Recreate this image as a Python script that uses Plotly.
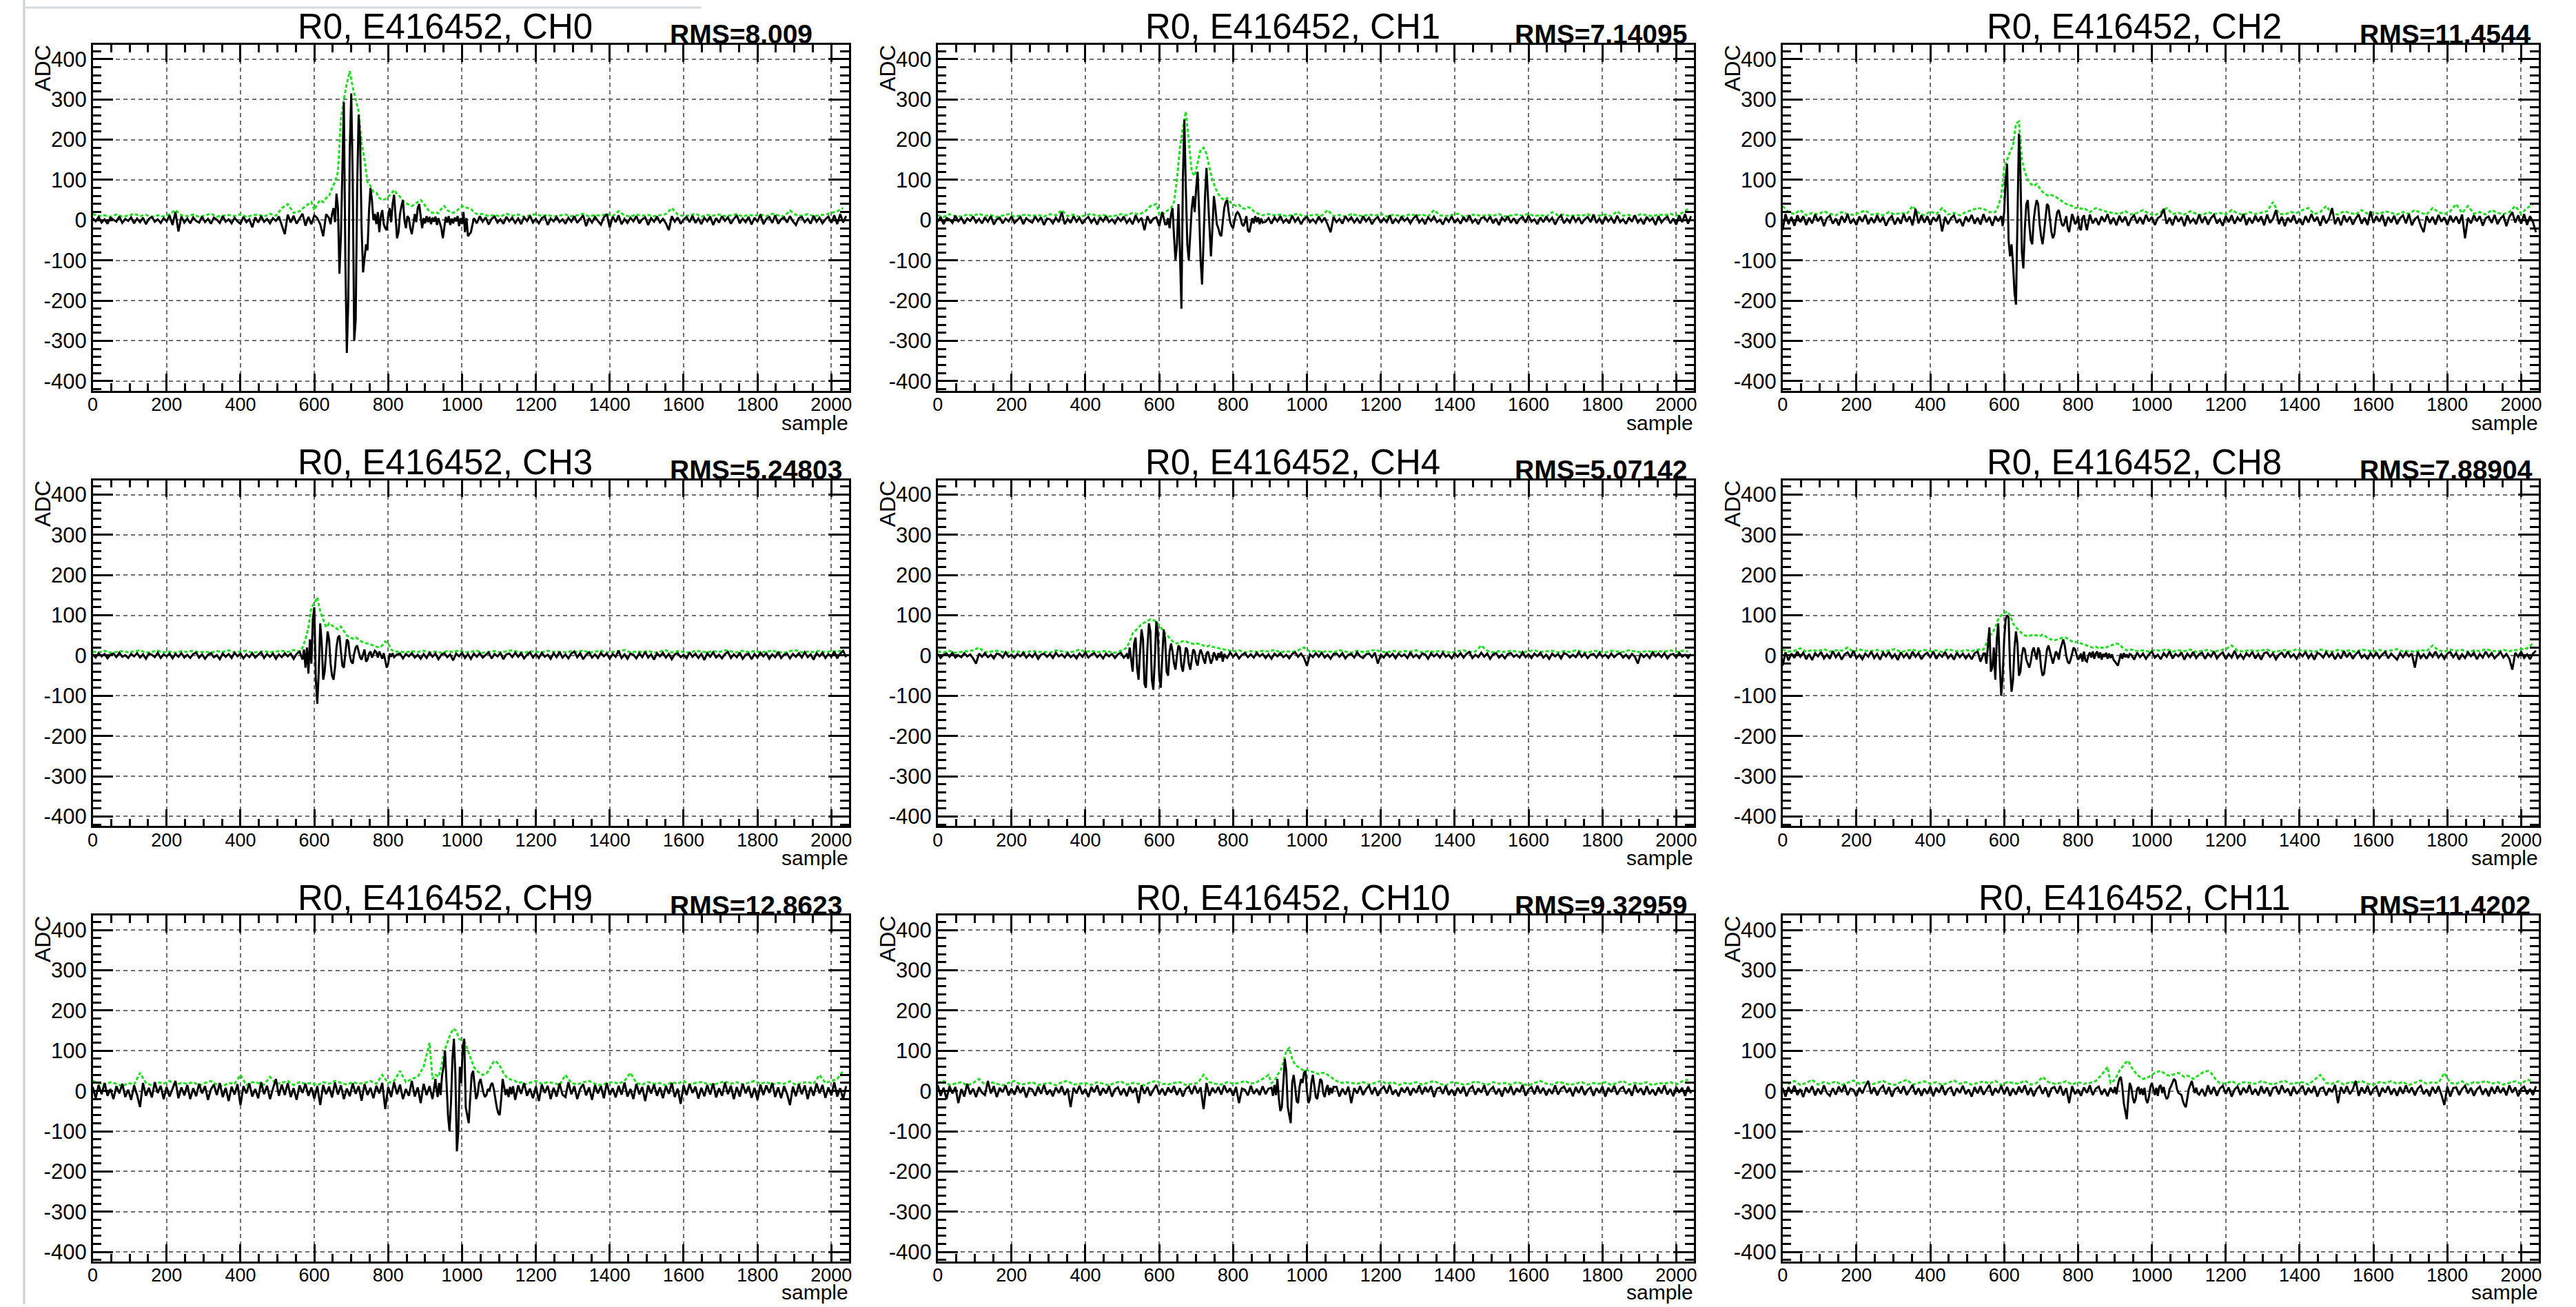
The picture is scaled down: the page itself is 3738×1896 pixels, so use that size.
import plotly.graph_objects as go

# ---------------------------------------------------------------------------
# Event display: run 0, event 416452 -- raw ADC waveform (black) and its
# envelope (green, dotted) for nine readout channels, 2048 samples each.
# Coarse samples are stored every ADC_STEP / ENV_STEP samples; the pulse
# regions are stored at a finer step and replace the coarse points there.
# ---------------------------------------------------------------------------
N_SAMPLES = 2048
ADC_STEP = 8
ENV_STEP = 16
BURST_STEP = 4
ENV_BURST_STEP = 8

run_label = "R0, E416452"
channel_names = ["CH0", "CH1", "CH2", "CH3", "CH4", "CH8", "CH9", "CH10", "CH11"]
rms_values = ["8.009", "7.14095", "11.4544", "5.24803", "5.07142",
              "7.88904", "12.8623", "9.32959", "11.4202"]

x_ticks = [0, 200, 400, 600, 800, 1000, 1200, 1400, 1600, 1800, 2000]
y_ticks = [-400, -300, -200, -100, 0, 100, 200, 300, 400]

# ----------------------------- CH0 -----------------------------------------
ch0_adc = [
    5, -3, 8, -6, 2, -9, 6, 1, -4, 9, -7, 3, -2, 7, -8, 4,
    -5, 6, -10, 3, 8, -4, 2, -7, 5, -3, 12, -12, 20, -28, 9, -6,
    4, -8, 7, -2, -6, 9, -5, 3, -9, 6, 1, -7, 10, -4, 2, -8,
    6, -3, -9, 8, -5, 2, -18, 7, -6, 10, -4, 3, -8, 5, -2, 9,
    -12, -35, 14, -6, 11, -9, 4, 16, -14, 8, -10, 12, 5, -10, -40, 15,
    5, 66, -133, 293, -330, 315, -300, 262, -130, -60, 80, 0, -10, -30, 25, -20,
    -10, 30, 63, -45, 50, -20, -35, 40, -8, 10, -5, 8, -4, 6, -20, 8,
    5, -8, -5, 6, 9, -8, -45, 8, -12, 6, 10, -15, -10, 20, 5, -40,
    -30, 5, -8, 10, -4, 7, -11, 3, 9, -6, 2, -9, 8, -3, 6, -7,
    4, -10, 7, -2, 11, -6, 3, -8, 5, 9, -12, 4, -3, 8, -5, 2,
    -9, 6, -4, 10, -7, 3, 12, -15, 5, -6, 8, -2, -11, 7, 15, -18,
    9, -5, 12, -10, 3, -7, 6, -3, 10, -8, 2, 7, -12, 5, -4, 9,
    -6, 3, -8, -25, 10, -4, 7, -9, 2, 8, -5, 11, -7, 4, -10, 6,
    -3, 9, -12, 5, -6, 10, -2, 7, -9, 3, 12, -8, 4, -5, 8, -11,
    6, -4, 14, -10, 3, 8, -7, 12, -9, 2, 7, -6, 10, -3, -12, 5,
    8, -5, 3, -9, 11, -4, 6, -8, 2, 9, -7, 12, -10, 15, -6, 10,
]
ch0_burst_start = 640
ch0_burst = [
    5, -10, 15, 30, -5, 66, 30, -133, -40, 150,
    293, -100, -330, -200, 180, 315, 100, -300, -250, 80,
    262, 200, -20, -130, -100, -60, -75, 20, 80, 50,
    0, 15, -10, 20, -30, 10, 25, -10, -20, -25,
    10, 30, -5, 40, 63, 10, -45, -30, 15, 35,
    50, 0, -20, 10, 5, -20, -35, -10, 15, -5,
    30, 40, 10, -20, 5, -8, 10, -5, 8, -10,
    6, -4, 9, -12, 5, -8, -20, -45, -15, 8,
    -6, 10, -12, 4, -8, 6, -3, 10, -15, 5,
    -10, 20, -30, 5, -40,
]
ch0_env = [
    15, 10, 12, 8, 14, 9, 11, 16, 10, 13, 8, 12, 9, 15, 25, 12,
    10, 14, 8, 12, 16, 9, 11, 13, 10, 15, 8, 12, 14, 9, 16, 11,
    30, 40, 18, 22, 35, 45, 50, 42, 80, 300, 370, 290, 160, 100, 75, 60,
    55, 50, 60, 70, 55, 50, 60, 45, 35, 25, 20, 25, 20, 18, 30, 35,
    20, 12, 15, 10, 13, 9, 16, 11, 14, 8, 12, 15, 10, 13, 9, 12,
    14, 10, 12, 16, 9, 13, 11, 15, 10, 22, 12, 9, 14, 11, 13, 10,
    12, 15, 30, 14, 10, 12, 16, 9, 13, 11, 14, 10, 12, 15, 9, 13,
    11, 14, 10, 16, 12, 9, 24, 13, 11, 15, 10, 12, 14, 18, 22, 30,
]
ch0_env_burst_start = 600
ch0_env_burst = [
    25, 40, 50, 45, 55, 60, 80, 95, 120, 250, 300, 340, 370, 330, 300, 270,
    190, 150, 95, 85, 70, 68, 55, 50, 52, 58, 65, 75, 65, 58, 48, 42,
    38, 35, 40, 45, 50, 42, 30, 22, 18, 20, 17, 28, 35, 25, 20, 18,
    22, 28, 35, 32, 30, 28, 20, 15,
]

# ----------------------------- CH1 -----------------------------------------
ch1_adc = [
    -4, 8, -10, 5, 2, -7, 11, -3, 6, -9, 4, -2, 9, -6, 3, -8,
    7, -4, 10, -11, 2, 6, -8, 4, -3, 9, -7, 1, 8, -10, 5, -2,
    -6, 9, -3, 7, -12, 4, 2, -8, 6, -5, 20, -10, 3, -7, 10, -4,
    6, -9, 2, 8, -6, 4, -11, 7, -3, 10, -5, 2, -8, 6, -2, 9,
    -7, 3, -10, 12, -4, 6, -25, 10, -8, 4, 7, -15, 20, -10, 15, -30,
    -40, -100, -220, 250, -100, 60, 80, -100, 130, -90, 30, -20, 0, 50, -20, 15,
    15, -10, -5, -30, 5, 10, -5, 10, -8, 4, 6, -9, 3, -5, 8, -4,
    5, -9, 7, -3, 10, -6, 2, -8, 11, -4, 6, -10, 3, 8, -5, 2,
    -7, 9, -4, 6, -11, -30, 8, -5, 3, -9, 10, -2, 7, -6, 4, -8,
    10, -3, 6, -10, 2, 8, -7, 4, -5, 12, -9, 3, -6, 9, -2, 5,
    -8, 4, 11, -6, 3, -10, 7, -2, 9, -5, 1, -11, 6, -4, 10, -7,
    3, -9, 8, -4, 12, -6, 2, -10, 5, 7, -3, 9, -8, 4, -12, 6,
    -2, 10, -7, 5, -9, 3, 8, -6, 11, -4, 2, -10, 7, -5, 9, -3,
    6, -11, 4, 12, -8, 3, -6, 10, -4, 7, -9, 2, 8, -5, 14, -7,
    4, -10, 9, -3, 6, -8, 11, -5, 2, -9, 7, -4, 12, -6, 3, -10,
    8, -2, 5, -12, 10, -6, 3, 9, -8, 4, -11, 12, -5, 15, -9, 10,
]
ch1_burst_start = 620
ch1_burst = [
    -10, 5, -20, 15, 30, -40, -100, -60, 40, -80,
    -220, 100, 250, 80, -60, -100, -40, 30, 60, 20,
    80, 120, 20, -100, -160, -40, 60, 130, 60, -30,
    -90, -20, 60, 30, -10, -20, -35, -40, 0, 30,
    45, 50, 20, -5, -15, -20, 0, 15, 20, 15,
    5, -10, -15, -5, 10, -25, -30, -10, 5, -8,
    10, -5, 7, -10, 4, -6,
]
ch1_env = [
    12, 8, 15, 10, 9, 14, 11, 16, 10, 13, 8, 12, 15, 9, 11, 14,
    10, 13, 9, 15, 12, 25, 10, 14, 8, 12, 16, 10, 13, 9, 11, 15,
    12, 18, 14, 20, 35, 40, 60, 100, 270, 200, 150, 180, 160, 130, 100, 80,
    60, 50, 45, 35, 30, 30, 25, 20, 15, 12, 14, 10, 13, 16, 9, 12,
    14, 11, 25, 10, 13, 9, 15, 12, 10, 14, 11, 16, 9, 13, 12, 10,
    15, 11, 14, 9, 25, 12, 10, 13, 16, 9, 12, 14, 10, 13, 11, 15,
    9, 12, 14, 11, 16, 10, 13, 9, 20, 12, 14, 10, 13, 11, 15, 9,
    12, 14, 10, 22, 11, 13, 9, 15, 12, 10, 14, 12, 16, 11, 18, 28,
]
ch1_env_burst_start = 600
ch1_env_burst = [
    15, 12, 20, 25, 30, 45, 100, 180, 230, 270, 200, 120, 110, 140, 175, 180,
    165, 130, 100, 80, 65, 55, 50, 55, 45, 40, 35, 38, 30, 28, 32, 30,
    22, 18, 14, 12,
]

# ----------------------------- CH2 -----------------------------------------
ch2_adc = [
    -25, 15, -10, 8, -14, 12, -5, 10, -12, 6, -8, 14, -3, 9, -15, 5,
    11, -9, 4, -13, 10, -6, 15, -8, 2, -12, 9, -4, 13, -10, 6, -7,
    12, -5, 8, -14, 3, 10, -11, 6, -9, 15, -4, 9, -13, 28, -8, 12,
    -6, 10, -12, 7, -3, 14, -28, 8, -10, 5, 12, -7, 3, -15, 9, -4,
    13, -9, 6, -11, 15, -5, 8, -14, 10, -3, 20, 100, -80, -40, -210, 150,
    215, -120, 50, -60, 50, -60, 40, -45, 25, -15, -30, 10, 40, -30, 20, -10,
    10, -30, 12, -20, 8, -6, 10, -25, 14, -8, 5, -12, 9, -4, 15, -10,
    6, -13, 11, -5, 9, -14, 4, 12, -8, 7, -10, 13, -3, 8, -12, 5,
    10, 28, -9, 6, -13, 11, -4, 8, -15, 12, -6, 3, -10, 14, -7, 9,
    -11, 5, 13, -8, 2, -14, 10, -5, 12, -9, 7, -3, 15, -12, 6, -8,
    11, -4, 9, -13, 14, -7, 3, 25, -10, 8, -15, 6, -5, 12, -9, 4,
    -12, 10, -6, 15, -3, 8, -14, 11, -8, 5, 30, -10, 7, -13, 12, -5,
    9, -11, 4, 14, -9, 6, -12, 22, -7, 10, -4, 13, -15, 8, -6, 11,
    -10, 5, 12, -8, 15, -13, 3, 9, -14, -30, 10, -6, 8, -11, 13, -4,
    7, -12, 11, -5, 9, -9, 14, -45, 6, -8, 12, -3, 10, -14, 5, 9,
    -7, 13, -10, 4, 11, -15, 8, 20, -6, 12, -9, 15, -12, 10, -5, -30,
]
ch2_burst_start = 592
ch2_burst = [
    10, -15, 20, 100, 140, -50, -90, -60, -110, -180,
    -210, 40, 215, 120, -80, -120, -20, 40, 50, -10,
    -50, -60, 0, 30, 50, 40, -10, -40, -60, -30,
    10, 40, 35, 0, -30, -45, -35, 0, 20, 25,
    10, -10, -15, -5, 10, -20, -30, -10, 15, 5,
    -10, -5, 10, -20, -25, 5, 12, -8,
]
ch2_env = [
    35, 20, 15, 25, 12, 18, 14, 22, 16, 12, 20, 15, 13, 18, 24, 14,
    16, 12, 20, 14, 18, 15, 35, 18, 12, 22, 15, 30, 14, 18, 12, 20,
    25, 30, 28, 20, 40, 150, 180, 245, 150, 100, 90, 75, 70, 62, 60, 55,
    50, 40, 35, 30, 28, 30, 25, 20, 18, 15, 22, 14, 18, 25, 16, 12,
    20, 30, 15, 18, 14, 22, 16, 12, 20, 15, 18, 14, 25, 17, 13, 20,
    15, 18, 22, 45, 16, 14, 20, 18, 25, 30, 15, 20, 35, 16, 14, 22,
    18, 14, 25, 16, 20, 15, 22, 18, 14, 20, 16, 25, 18, 14, 30, 20,
    15, 22, 40, 18, 35, 16, 20, 14, 25, 18, 15, 20, 35, 16, 30, 40,
]
ch2_env_burst_start = 576
ch2_env_burst = [
    20, 35, 60, 130, 150, 170, 185, 240, 245, 150, 120, 100, 90, 85, 90, 80,
    70, 65, 60, 62, 60, 55, 50, 45, 40, 38, 35, 30, 32, 28, 30, 25, 20,
]

# ----------------------------- CH3 -----------------------------------------
ch3_adc = [
    3, -5, 6, -2, 4, -7, 2, 5, -4, 7, -3, 1, -6, 4, -2, 6,
    -5, 3, -8, 5, 2, -4, 7, -6, 3, -2, 5, -7, 4, -3, 6, -5,
    2, -6, 4, 7, -5, 3, -8, 2, 6, -4, 1, -9, 5, -3, 4, -6,
    7, -2, 5, -7, 3, -4, 6, -5, 2, 8, -6, 4, -3, 5, -8, 3,
    -4, 6, -2, 5, -8, 4, 10, -12, -40, 20, 120, -120, 80, -60, -20, 60,
    0, -60, 50, -30, 40, -20, 25, -15, 10, 5, -10, 8, -5, 10, -8, 5,
    10, -30, -15, 6, -4, 8, -10, 3, 5, -7, 4, -2, 6, -5, 2, -8,
    4, -6, 7, -3, 5, -9, 2, 6, -4, 3, -12, 5, -2, 7, -6, 4,
    -8, 5, -3, 6, -5, 2, 8, -7, 4, -2, 6, -9, 3, 5, -4, 7,
    -3, 6, -7, 2, 8, -5, 4, -6, 7, -3, 2, -8, 6, -4, 9, -5,
    3, -7, 5, 10, -4, 6, -9, 2, 8, -5, 3, -6, 7, -2, 5, -8,
    4, -3, 12, -6, 3, -8, 5, 2, -7, 6, -4, 9, -5, 3, -10, 6,
    -2, 7, -5, 4, -9, 3, 6, -4, 2, -7, 8, -3, 5, -6, 4, -11,
    6, -3, 8, -5, 2, -7, 4, 9, -6, 3, -4, 7, -8, 2, 5, -9,
    4, -5, 7, -2, 6, -8, 3, -4, 9, -6, 2, 5, -7, 4, -3, 6,
    -5, 8, -4, 3, -10, 6, -2, 7, -6, 4, -3, 10, -7, 5, 12, -4,
]
ch3_burst_start = 568
ch3_burst = [
    -10, 15, -30, 20, -45, 40, -20, 90, 120, -60,
    -120, -40, 80, 30, -60, -40, 10, 60, 40, -20,
    -50, -60, -30, 20, 45, 50, 10, -25, -30, 10,
    40, 35, 0, -15, -20, 5, 20, 25, 10, -5,
    -10, 5, 15, -15, -10, 5, 10, -5, 3, 12,
    8, -5, 10, 2, -8, 6, -15, -30, -20, 5,
    -3, 6, -4,
]
ch3_env = [
    10, 8, 12, 7, 9, 11, 8, 10, 13, 7, 9, 12, 8, 10, 7, 11,
    9, 12, 8, 10, 7, 11, 9, 13, 8, 10, 12, 7, 9, 11, 8, 10,
    12, 9, 14, 20, 60, 145, 120, 90, 75, 80, 70, 60, 50, 45, 40, 38,
    35, 35, 25, 15, 10, 8, 11, 9, 12, 8, 10, 7, 11, 9, 13, 8,
    10, 12, 7, 9, 11, 8, 10, 13, 9, 7, 11, 10, 8, 12, 9, 10,
    8, 11, 9, 13, 7, 10, 12, 8, 9, 11, 14, 8, 10, 9, 12, 7,
    10, 13, 8, 11, 9, 7, 12, 10, 8, 11, 9, 13, 10, 8, 12, 9,
    11, 8, 10, 12, 9, 7, 11, 13, 8, 10, 9, 12, 8, 11, 10, 13,
]
ch3_env_burst_start = 560
ch3_env_burst = [
    10, 20, 40, 70, 120, 130, 145, 110, 90, 70, 80, 75, 70, 65, 72, 60,
    50, 45, 42, 45, 40, 35, 32, 30, 28, 25, 22, 20, 25, 35, 30, 15, 10,
]

# ----------------------------- CH4 -----------------------------------------
ch4_adc = [
    4, -6, 2, 5, -3, 7, -5, 1, -4, 6, -2, 3, -7, -20, 5, -3,
    6, -4, 2, -7, 5, 3, -5, 8, -3, 2, -6, 4, -2, 7, -5, 3,
    -4, 6, -8, 2, 5, -3, 4, -6, 7, -2, 3, -5, 6, -4, 2, -7,
    5, -3, 8, -5, 2, 6, -4, 3, -7, 5, -2, 4, -6, 3, 7, -5,
    2, 15, -30, 40, -60, 60, -80, 70, -85, 80, -80, 70, -50, 40, -30, 20,
    0, -30, 20, -40, 15, -35, 10, -20, 15, -25, 10, -10, -20, 5, -8, 6,
    -15, 4, -6, 8, -3, 5, -7, 2, 6, -4, 3, -5, 7, -2, 4, -6,
    3, -8, 5, -2, 6, -4, 2, -7, 4, 8, -3, 5, -6, -25, 3, -4,
    6, -3, 7, -5, 2, -8, 4, 5, -3, 6, -7, 2, 4, -5, 8, -2,
    -6, 3, 5, -4, 7, -20, 2, -5, 6, -3, 4, -7, 5, -2, 3, -6,
    8, -4, 2, -6, 5, 3, -8, 6, -2, 4, -5, 7, -3, 2, -7, 5,
    -3, 6, -5, 4, 9, -6, 2, -4, 7, -3, 5, -8, 3, 6, -5, 2,
    -7, 4, 6, -3, 2, -5, 8, -4, 3, -6, 5, -2, 7, -5, 2, -8,
    5, -2, 4, -7, 6, 3, -5, 2, -4, 8, -3, 5, -6, 2, 4, -5,
    7, -3, 2, -6, 5, -4, 3, 6, -5, 2, -7, 4, -3, -20, 5, -4,
    3, -6, 8, -2, 5, -4, 6, -7, 2, 4, -5, 7, -3, 2, -6, 4,
]
ch4_burst_start = 512
ch4_burst = [
    3, -8, 20, -10, -40, 30, 45, -30, -60, 10,
    65, 40, -70, -80, 20, 80, 60, -60, -85, -10,
    85, 60, -50, -80, 0, 65, 40, -40, -50, 10,
    30, 10, -20, -35, 0, 25, 20, -25, -40, -5,
    20, 15, -20, -35, -10, 15, 10, -15, -25, 0,
    15, 5, -10, -20, 5, 10, -5, -20, -10, 8,
    0, -12, 6, -5, 10, -15, 4, -3,
]
ch4_env = [
    10, 8, 12, 7, 9, 11, 13, 20, 8, 10, 12, 9, 7, 11, 10, 8,
    12, 9, 10, 7, 13, 11, 8, 10, 15, 9, 12, 8, 11, 10, 7, 12,
    20, 50, 80, 90, 70, 55, 35, 30, 32, 35, 30, 28, 25, 22, 20, 18,
    15, 12, 10, 13, 8, 11, 9, 12, 10, 14, 8, 11, 9, 13, 20, 10,
    12, 9, 11, 8, 13, 10, 7, 12, 9, 11, 14, 10, 8, 12, 9, 11,
    10, 13, 8, 11, 9, 12, 10, 7, 11, 13, 9, 10, 25, 12, 8, 11,
    9, 12, 10, 8, 11, 13, 9, 10, 12, 8, 11, 9, 13, 10, 7, 12,
    10, 8, 12, 11, 9, 13, 10, 8, 12, 9, 11, 10, 13, 9, 12, 10,
]
ch4_env_burst_start = 496
ch4_env_burst = [
    12, 15, 20, 35, 55, 62, 70, 78, 82, 86, 90, 88, 85, 75, 65, 55,
    48, 40, 32, 30, 32, 36, 35, 32, 30, 28, 30, 28, 25, 22, 25, 22,
    20, 18, 16, 15, 14, 12, 10,
]

# ----------------------------- CH8 -----------------------------------------
ch8_adc = [
    -25, 8, -12, 5, -6, 10, -3, 7, -9, 4, -11, 6, -2, 9, -7, 3,
    -8, 11, -4, 6, -10, 3, 8, -5, 12, -7, 2, -9, 5, -3, 10, -6,
    4, -10, 7, -2, 9, -6, 3, -11, 8, -4, 5, -8, 10, -3, 6, -9,
    2, 7, -5, 10, -8, 4, -3, 9, -6, 2, -10, 7, -4, 5, -7, 3,
    -9, 6, 10, -15, 5, -20, 70, -60, 80, -100, 95, -90, 60, -50, 20, -30,
    20, -50, 25, -20, 40, -20, 20, -15, 10, 5, -5, 10, -8, 5, -10, 4,
    -6, 9, -3, 7, -10, 5, -4, 8, -2, 6, -9, 3, 7, -5, 10, -7,
    4, -8, 6, -3, 9, -6, 2, -10, 7, -4, 5, -8, 3, 10, -5, 2,
    -9, 6, -3, 11, -7, 4, -2, 8, -10, 5, -4, 9, -6, 3, 7, -8,
    5, -3, 10, -7, 2, 8, -9, 4, -5, 12, -6, 3, -8, 6, -2, 9,
    -7, 4, -10, 6, 8, -3, 5, -9, 2, 7, -5, 10, -4, 3, -8, 6,
    -2, 9, -6, 4, -10, 7, 3, -5, 8, -3, 6, -9, 4, -7, 11, -4,
    7, -8, 3, 10, -5, 2, -9, 6, -4, 8, -6, 3, 9, -7, 5, -3,
    -10, 6, -4, 8, -2, 5, -30, 9, -6, 3, -8, 7, -3, 10, -5, 4,
    -8, 5, 9, -4, 6, -10, 3, -6, 8, -2, 7, -9, 4, -5, 10, -3,
    6, -7, 2, 9, -5, 4, -8, -35, 7, -3, 10, -6, 3, -9, 5, 12,
]
ch8_burst_start = 548
ch8_burst = [
    5, -20, 30, 70, -40, -30, 20, -60, 40, 80,
    -20, -100, -50, 40, 90, 100, 95, -30, -90, -60,
    20, 60, 30, -50, -40, 0, 20, 15, -10, -20,
    -30, -15, 10, 20, 5, -10, 20, 10, -30, -50,
    -45, -10, 15, 25, 10, -10, -20, -5, 10, 5,
    -10, 15, 30, 40, 25, 0, -15, -20, -10, 5,
    20, 15, 0, -10, -5, 5, -15, 10, -12, -15,
    0, 8, -5, 10, -8, 5, 10, -6, 8, -10,
    4, -3, 7, -8, 5, -6, 3, -10, -15, -20,
    -25, -10, 5, -8, 6, -4, 3, -6, 4,
]
ch8_env = [
    15, 10, 12, 18, 9, 14, 11, 16, 10, 13, 12, 20, 9, 15, 12, 11,
    14, 10, 13, 16, 9, 12, 15, 10, 14, 11, 13, 9, 16, 12, 10, 14,
    11, 15, 25, 50, 80, 105, 110, 70, 60, 50, 48, 50, 45, 40, 42, 45,
    45, 40, 35, 30, 28, 25, 30, 22, 18, 14, 12, 15, 11, 13, 10, 14,
    12, 16, 10, 13, 11, 15, 9, 12, 14, 10, 13, 16, 25, 12, 10, 14,
    11, 13, 15, 9, 12, 14, 10, 16, 11, 13, 9, 15, 12, 10, 14, 11,
    13, 9, 15, 12, 10, 14, 11, 13, 16, 10, 12, 9, 14, 11, 25, 13,
    10, 15, 12, 14, 9, 13, 11, 16, 12, 10, 14, 11, 13, 15, 18, 30,
]
ch8_env_burst_start = 544
ch8_env_burst = [
    15, 30, 50, 55, 70, 90, 100, 105, 110, 100, 80, 70, 62, 55, 50, 48,
    50, 52, 50, 48, 52, 48, 42, 40, 38, 40, 42, 45, 44, 40, 35, 33,
    35, 30, 28, 25, 22, 20, 22, 18, 20, 18, 22, 25, 28, 30, 28, 20,
    15, 12,
]

# ----------------------------- CH9 -----------------------------------------
ch9_adc = [
    10, -18, 15, -8, 20, -12, 5, -20, 12, -6, 18, -15, 3, -22, 14, -10,
    -40, 20, -12, 8, -16, 22, -5, 13, -20, 10, -14, 6, 25, -18, 9, -11,
    15, -20, 7, -13, 18, -6, 12, -22, 4, 16, -10, 20, -15, 8, -25, 11,
    -9, 17, -35, 12, -6, 19, -14, 5, -18, 22, -8, 13, -20, 6, 30, -12,
    16, -10, 20, -15, 7, -22, 14, -5, 18, -12, 9, -19, 12, -35, 15, -8,
    11, -16, 21, -9, 14, -20, 6, -13, 19, -7, 12, -24, 17, -10, 8, -18,
    13, -6, 20, -45, 10, -15, 22, -8, 16, -20, 5, -12, 25, -14, 9, -30,
    18, -10, 12, -20, 30, -40, 60, 100, -100, 130, -150, 60, 130, -60, -80, 50,
    -20, 30, -10, 20, -40, -60, 30, -10, 15, -20, 12, -8, 18, -15, 10, -22,
    14, -7, 20, -12, 6, -18, 11, -25, 16, -5, 13, -20, 8, -14, 19, -9,
    -15, 22, -8, 12, -20, 6, 17, -11, 9, -22, 15, -6, 12, -18, 20, -10,
    7, -16, 13, -9, 21, -14, 5, -20, 18, -8, 10, -25, 14, -6, 16, -12,
    9, -18, 12, -7, 20, -15, 6, -32, 14, -10, 17, -5, 11, -19, 8, -13,
    15, -9, 19, -16, 7, -12, 21, -8, 13, -20, 10, -14, 18, -6, 12, -17,
    8, -22, 16, -10, 14, -5, 20, -15, 9, -18, 12, -7, -35, 11, -13, 17,
    -8, 14, -20, 10, -12, 19, -6, 15, -17, 9, -11, 22, -14, 7, -20, 12,
]
ch9_burst_start = 930
ch9_burst = [
    10, -15, 20, -10, 40, 60, 100, 20, -60, -100,
    -30, 80, 130, 40, -150, -100, 60, 20, 110, 130,
    -40, -60, -80, -20, 40, 50, 10, -20, -10, 20,
    30, 10, -5, -15, -10, 5, 0, 15, 20, 5,
    -20, -40, -55, -60, -20, 30, 10, -10, 5, -15,
    10, -8, 12,
]
ch9_env = [
    25, 20, 15, 22, 18, 12, 20, 16, 45, 20, 14, 22, 18, 25, 15, 20,
    18, 22, 14, 20, 25, 16, 12, 20, 18, 40, 15, 22, 20, 16, 35, 18,
    20, 25, 15, 22, 18, 20, 14, 22, 18, 25, 20, 16, 22, 18, 20, 25,
    18, 40, 20, 25, 50, 22, 30, 35, 60, 120, 155, 130, 120, 100, 60, 45,
    40, 45, 75, 60, 30, 20, 25, 18, 22, 16, 20, 25, 18, 22, 20, 15,
    40, 20, 16, 22, 25, 18, 14, 20, 22, 18, 25, 45, 20, 16, 22, 18,
    20, 14, 22, 18, 25, 16, 20, 22, 18, 15, 20, 24, 18, 22, 16, 20,
    25, 18, 22, 16, 20, 18, 24, 15, 20, 22, 18, 40, 20, 25, 30, 50,
]
ch9_env_burst_start = 920
ch9_env_burst = [
    30, 40, 35, 60, 100, 120, 140, 155, 150, 130, 125, 120, 100, 80, 60, 50,
    45, 40, 42, 50, 65, 75, 70, 60, 45, 35, 30, 28, 25, 20, 22,
]

# ----------------------------- CH10 ----------------------------------------
ch10_adc = [
    15, -12, 8, -20, 12, -6, 10, -30, 5, -14, 18, -8, 6, -15, 10, -4,
    -10, 25, -6, 12, -15, 8, -3, 14, -11, 6, -9, 13, -5, 10, -16, 7,
    4, -12, 11, -7, 15, -9, 3, -13, 9, -5, 12, -10, 6, -40, 8, -6,
    13, -8, 5, -15, 10, -3, 14, -11, 7, -6, 12, -14, 4, 9, -10, 6,
    -13, 11, -5, 8, -30, 14, -7, 10, -12, 3, 15, -9, 6, -11, 9, -4,
    12, -10, 7, -14, 5, 11, -8, 13, -6, 9, -45, 20, -12, 8, -5, 10,
    -9, 14, -4, 7, -12, 10, -30, 6, 3, -11, 13, -7, 5, -10, 12, -8,
    6, -13, 9, -5, 15, -20, 30, -50, 80, -60, -80, 40, -30, 50, -30, 40,
    -20, 30, -10, 20, -12, 8, -5, 10, -14, 6, -9, 11, -30, 7, -6, 12,
    -10, 5, 13, -8, 9, -12, 4, 11, -6, 15, -9, 3, -13, 8, -4, 10,
    -11, 7, -5, 14, -8, 10, -3, 12, -15, 6, 9, -7, 13, -10, 4, -12,
    8, -6, 11, -13, 5, 12, -9, 7, -4, 14, -11, 3, 10, -8, 6, -14,
    9, -5, 12, -10, 7, -3, 15, -12, 4, 10, -8, 13, -6, 8, -11, 5,
    -7, 14, -9, 6, 11, -4, 8, -13, 10, -5, 12, -10, 3, 9, -12, 7,
    -5, 11, -14, 8, -3, 13, -9, 5, 10, -7, 6, -12, 15, -4, 7, -10,
    12, -8, 4, -11, 9, -6, 14, -9, 5, -13, 10, -4, 8, -12, 11, -6,
]
ch10_burst_start = 904
ch10_burst = [
    8, -12, 15, -10, 30, -20, -50, -40, 30, 80,
    50, -40, -60, -80, 20, 40, 10, -25, -30, 10,
    30, 20, 45, 50, 0, -30, -20, 20, 40, 10,
    -15, -20, 10, 30, 25, -5, -15, 5, 15, -10,
    8, -6, 10,
]
ch10_env = [
    20, 25, 15, 18, 22, 14, 20, 30, 16, 22, 18, 14, 20, 25, 16, 18,
    22, 15, 18, 20, 14, 22, 25, 16, 18, 20, 15, 22, 18, 14, 20, 24,
    16, 20, 18, 14, 22, 25, 18, 16, 20, 22, 15, 18, 20, 40, 22, 18,
    16, 22, 18, 20, 25, 18, 22, 30, 40, 60, 100, 70, 55, 50, 48, 45,
    45, 40, 35, 30, 25, 22, 20, 18, 22, 16, 20, 25, 18, 22, 15, 20,
    18, 22, 16, 20, 25, 18, 14, 22, 20, 16, 18, 24, 20, 15, 22, 18,
    20, 16, 22, 18, 14, 20, 25, 18, 16, 22, 20, 15, 18, 22, 16, 20,
    18, 22, 15, 20, 25, 16, 20, 18, 22, 14, 20, 18, 22, 16, 24, 28,
]
ch10_env_burst_start = 904
ch10_env_burst = [
    20, 25, 40, 50, 70, 100, 107, 80, 65, 60, 55, 50, 52, 50, 48, 45,
    42, 45, 45, 40, 35, 30, 25, 22, 20,
]

# ----------------------------- CH11 ----------------------------------------
ch11_adc = [
    8, -14, 10, -6, 13, -10, 5, -15, 9, -4, 12, -11, 6, -8, 14, -5,
    -12, 7, -9, 11, -3, 15, -10, 6, 3, -13, 8, -6, 12, 25, -7, 9,
    -11, 5, 13, -8, 10, -14, 4, 9, -6, 12, -10, 3, 15, -9, 7, -12,
    6, -7, 11, -13, 8, -4, 14, -10, 5, 9, -12, 7, -5, 13, -8, 4,
    -14, 10, -6, 12, -9, 3, 15, -11, 7, -5, 13, -8, 10, -12, 6, -9,
    11, -4, 14, -10, 8, -13, 5, 12, -7, 9, -15, 6, 10, -6, 13, -11,
    7, -30, 12, -8, 4, -12, 9, -5, 14, -10, 6, 11, -9, 5, -13, 8,
    -6, 12, 35, -70, 20, -30, 10, -15, 8, -5, 12, -30, 15, -10, 20, -20,
    10, -15, 25, -10, 30, -40, 25, -10, 8, -12, 15, -6, 11, -9, 5, -13,
    14, -8, 10, -12, 6, 13, -7, 9, -14, 4, 11, -10, 8, -5, 15, -9,
    5, -11, 12, -6, 9, -13, 7, 10, -8, 14, -4, 6, -12, 11, -7, 3,
    13, -10, 8, -5, 12, -14, 6, 9, -11, 7, -3, 15, -30, 10, -6, 12,
    -8, 4, 25, -12, 9, -6, 13, -10, 5, 11, -14, 8, -4, 12, -9, 6,
    -12, 10, -7, 14, -5, 9, -11, 6, 13, -8, 4, -13, 10, -6, 12, -9,
    -35, 11, -14, 7, 9, -10, 5, 13, -6, 8, -12, 4, 11, -9, 6, -13,
    10, -7, 12, -5, 8, -11, 14, -4, 9, -13, 6, 11, -8, 5, -10, 12,
]
ch11_burst_start = 896
ch11_burst = [
    -5, 10, -8, 15, 30, 35, 10, -30, -50, -70,
    -20, 20, 10, -15, -30, -20, 5, 10, -8, 6,
    -10, 8, -20, -30, -15, 10, 20, 5, -10, 8,
    -12, 10, 15, -5, 10, -10, -20, -15, 5, 12,
    20, 30, 25, 5, -5, -8, -10, -25, -35, -40,
    -20, 5, 15, 25, 10, -5, 8, -6,
]
ch11_env = [
    22, 18, 25, 15, 20, 28, 16, 22, 18, 24, 15, 20, 26, 18, 22, 16,
    20, 25, 18, 15, 22, 28, 16, 20, 24, 18, 22, 15, 20, 26, 18, 22,
    16, 20, 24, 18, 25, 15, 22, 20, 18, 26, 16, 20, 35, 22, 18, 20,
    24, 16, 22, 18, 20, 25, 40, 60, 75, 50, 35, 30, 35, 30, 25, 40,
    50, 40, 35, 30, 38, 50, 45, 30, 25, 20, 22, 18, 25, 16, 22, 20,
    18, 24, 20, 16, 22, 25, 18, 20, 22, 16, 28, 40, 20, 18, 24, 16,
    22, 20, 25, 18, 16, 22, 20, 24, 18, 22, 15, 20, 26, 18, 22, 20,
    45, 20, 18, 24, 16, 22, 20, 25, 18, 22, 16, 20, 24, 18, 28, 25,
]
ch11_env_burst_start = 888
ch11_env_burst = [
    20, 25, 35, 50, 60, 70, 75, 60, 50, 40, 35, 30, 32, 35, 40, 45,
    48, 50, 45, 40, 38, 40, 42, 45, 40, 35, 38, 35, 30, 35, 40, 45,
    48, 50, 45, 35, 25, 20,
]

channel_data = [
    (ch0_adc, ch0_burst_start, ch0_burst, ch0_env, ch0_env_burst_start, ch0_env_burst),
    (ch1_adc, ch1_burst_start, ch1_burst, ch1_env, ch1_env_burst_start, ch1_env_burst),
    (ch2_adc, ch2_burst_start, ch2_burst, ch2_env, ch2_env_burst_start, ch2_env_burst),
    (ch3_adc, ch3_burst_start, ch3_burst, ch3_env, ch3_env_burst_start, ch3_env_burst),
    (ch4_adc, ch4_burst_start, ch4_burst, ch4_env, ch4_env_burst_start, ch4_env_burst),
    (ch8_adc, ch8_burst_start, ch8_burst, ch8_env, ch8_env_burst_start, ch8_env_burst),
    (ch9_adc, ch9_burst_start, ch9_burst, ch9_env, ch9_env_burst_start, ch9_env_burst),
    (ch10_adc, ch10_burst_start, ch10_burst, ch10_env, ch10_env_burst_start, ch10_env_burst),
    (ch11_adc, ch11_burst_start, ch11_burst, ch11_env, ch11_env_burst_start, ch11_env_burst),
]


def merge_trace(coarse, coarse_step, fine_start, fine, fine_step):
    """Coarse samples everywhere, finer samples over the pulse window."""
    fx = [fine_start + i * fine_step for i in range(len(fine))]
    lo, hi = fx[0], fx[-1]
    pts = [(i * coarse_step, v) for i, v in enumerate(coarse)
           if i * coarse_step < lo or i * coarse_step > hi]
    pts += list(zip(fx, fine))
    pts.sort()
    return [p[0] for p in pts], [p[1] for p in pts]


# ------------------------------ layout -------------------------------------
W, H = 3738, 1896
FONT = "Liberation Sans, Arial, Helvetica, sans-serif"
COL_LEFT = [127, 1357, 2587]
ROW_TOP = [65, 698, 1331]
FRAME_W, FRAME_H = 1101, 503
TITLE_CX = [640, 1874, 3099]
SAMPLE_DROP = [64, 64, 62]      # "sample" baseline offset below each frame
Y_RANGE = [-424, 436]


def px(x):
    return x / W


def py(y):
    return 1 - y / H


axis_common = dict(
    showline=True, linecolor="black", linewidth=2.5, mirror="allticks",
    ticks="inside", tickcolor="black", tickwidth=2.5,
    showgrid=True, gridcolor="#707070", gridwidth=2, griddash="6px,5px",
    zeroline=False, fixedrange=True,
)

fig = go.Figure()
layout = dict(
    width=W, height=H, margin=dict(l=0, r=0, t=0, b=0),
    paper_bgcolor="white", plot_bgcolor="white",
    showlegend=False, hovermode=False,
)
annotations = []

for k, name in enumerate(channel_names):
    r, c = divmod(k, 3)
    sfx = "" if k == 0 else str(k + 1)
    left, top = COL_LEFT[c], ROW_TOP[r]
    adc, b0, burst, env, e0, env_burst = channel_data[k]

    layout["xaxis" + sfx] = dict(
        axis_common, domain=[px(left), px(left + FRAME_W)], anchor="y" + sfx,
        range=[0, N_SAMPLES], tickmode="array", tickvals=x_ticks,
        ticktext=[str(v) for v in x_ticks], ticklen=25, ticklabelstandoff=-6,
        tickfont=dict(family=FONT, size=27, color="black"),
        minor=dict(ticks="inside", ticklen=11, tickwidth=2.5, tickcolor="black",
                   dtick=50, tick0=0, showgrid=False),
    )
    layout["yaxis" + sfx] = dict(
        axis_common, domain=[py(top + FRAME_H), py(top)], anchor="x" + sfx,
        range=Y_RANGE, tickmode="array", tickvals=y_ticks,
        ticktext=[str(v) for v in y_ticks], ticklen=30,
        tickfont=dict(family=FONT, size=31, color="black"),
        minor=dict(ticks="inside", ticklen=13, tickwidth=2.5, tickcolor="black",
                   dtick=20, tick0=0, showgrid=False),
    )

    ex, ey = merge_trace(env, ENV_STEP, e0, env_burst, ENV_BURST_STEP)
    bx, by = merge_trace(adc, ADC_STEP, b0, burst, BURST_STEP)
    fig.add_trace(go.Scatter(
        x=ex, y=ey, mode="lines", xaxis="x" + sfx, yaxis="y" + sfx,
        line=dict(color="#1ee01e", width=3, dash="5px,3px"),
    ))
    fig.add_trace(go.Scatter(
        x=bx, y=by, mode="lines", xaxis="x" + sfx, yaxis="y" + sfx,
        line=dict(color="black", width=3),
    ))

    annotations.append(dict(
        text=f"{run_label}, {name}", x=px(TITLE_CX[c]), y=py(top - 26),
        xref="paper", yref="paper", xanchor="center", yanchor="middle",
        showarrow=False, font=dict(family=FONT, size=51, color="black"),
    ))
    annotations.append(dict(
        text=f"<b>RMS={rms_values[k]}</b>", x=px(left + 838), y=py(top - 15),
        xref="paper", yref="paper", xanchor="left", yanchor="middle",
        showarrow=False, font=dict(family=FONT, size=39, color="black"),
    ))
    annotations.append(dict(
        text="ADC", x=px(left - 73), y=py(top - 2), textangle=-90,
        xref="paper", yref="paper", xanchor="center", yanchor="top",
        showarrow=False, font=dict(family=FONT, size=32, color="black"),
    ))
    annotations.append(dict(
        text="sample", x=px(left + FRAME_W),
        y=py(top + FRAME_H + SAMPLE_DROP[r]),
        xref="paper", yref="paper", xanchor="right", yanchor="bottom",
        showarrow=False, font=dict(family=FONT, size=30, color="black"),
        borderpad=0,
    ))

layout["annotations"] = annotations
layout["shapes"] = [
    dict(type="line", xref="paper", yref="paper", x0=px(27), x1=px(27),
         y0=0, y1=1, line=dict(color="#c9cfd5", width=3)),
    dict(type="line", xref="paper", yref="paper", x0=px(27), x1=px(1013),
         y0=py(11), y1=py(11), line=dict(color="#d3dae0", width=3)),
]
fig.update_layout(**layout)
fig.write_html("out.html", config={"displayModeBar": False})
